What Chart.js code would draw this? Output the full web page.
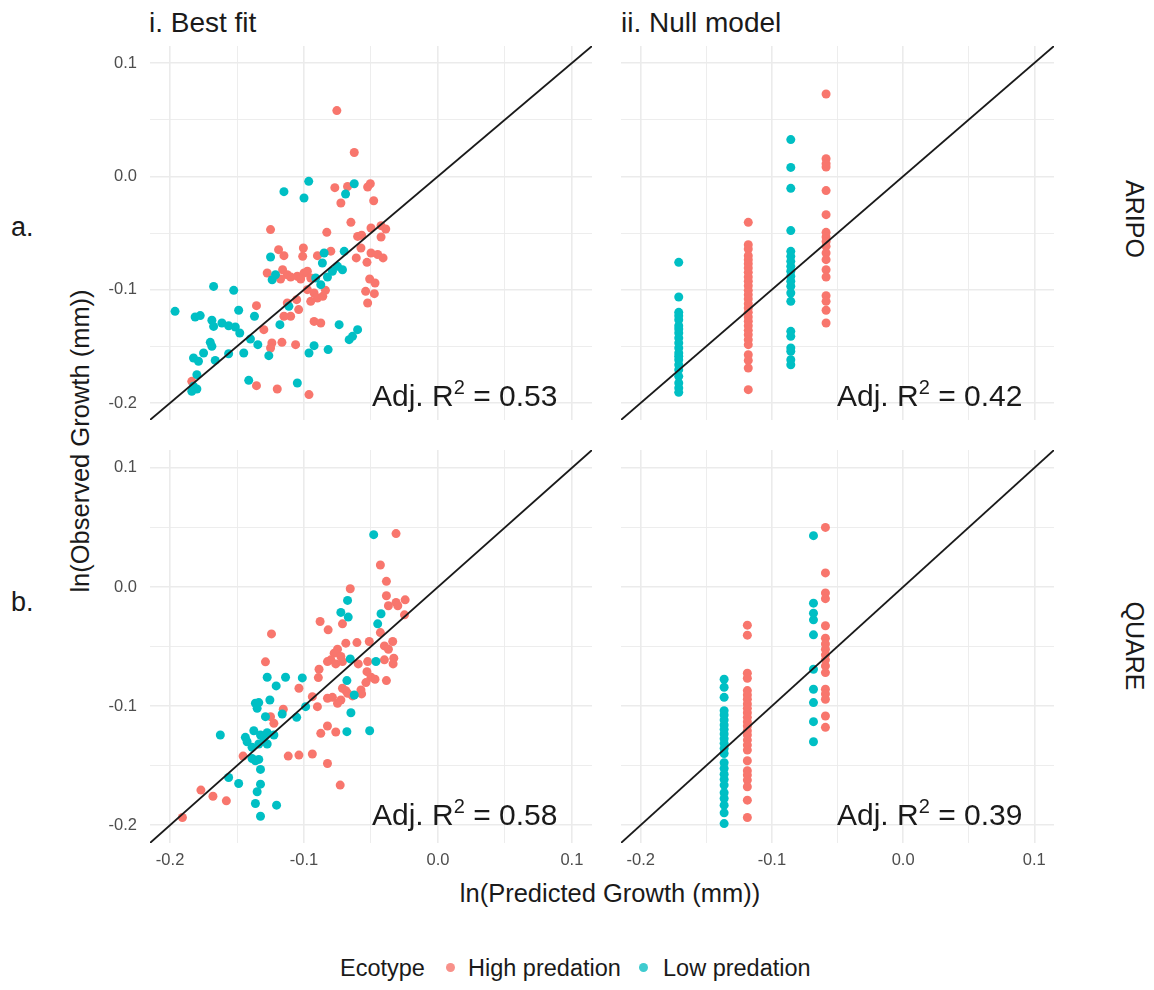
<!DOCTYPE html>
<html>
<head>
<meta charset="utf-8">
<script src="https://cdn.jsdelivr.net/npm/chart.js@4.4.0/dist/chart.umd.min.js"></script>
<style>
  body { margin: 0; background: #fff; }
  #page { position: relative; width: 1154px; height: 990px; background: #fff; overflow: hidden;
          font-family: 'Liberation Sans', Arial, Helvetica, sans-serif; color: #1a1a1a; }
  .t { position: absolute; white-space: nowrap; line-height: 1; }
  .panel { position: absolute; }
  .rot { transform: translate(-50%, -50%) rotate(90deg); }
  .rotl { transform: translate(-50%, -50%) rotate(-90deg); }
  .adj { font-size: 30px; }
  .adj sup { font-size: 20px; position: relative; top: -4px; vertical-align: top; }
  .dot { position: absolute; width: 9px; height: 9px; border-radius: 50%; }
</style>
</head>
<body>
<div id="page">
  <div class="t" style="left:149px; top:9px; font-size:28px;">i. Best fit</div>
  <div class="t" style="left:621px; top:9px; font-size:28px;">ii. Null model</div>
  <div class="t" style="left:11px; top:214px; font-size:27px;">a.</div>
  <div class="t" style="left:11px; top:589px; font-size:27px;">b.</div>
  <div class="t rot" style="left:1134px; top:219px; font-size:25px;">ARIPO</div>
  <div class="t rot" style="left:1134px; top:646px; font-size:25px;">QUARE</div>
  <div class="t rotl" style="left:81px; top:441px; font-size:25.5px;">ln(Observed Growth (mm))</div>
  <div class="t" style="left:610px; top:881px; font-size:25.5px; transform:translateX(-50%);">ln(Predicted Growth (mm))</div>

  <div class="panel" style="left:95px; top:46px;"><canvas id="c0" width="497" height="374"></canvas></div>
  <div class="panel" style="left:621px; top:46px;"><canvas id="c1" width="433" height="374"></canvas></div>
  <div class="panel" style="left:95px; top:450px;"><canvas id="c2" width="497" height="421"></canvas></div>
  <div class="panel" style="left:621px; top:450px;"><canvas id="c3" width="433" height="421"></canvas></div>

  <div class="t adj" style="left:372px; top:381px;">Adj. R<sup>2</sup> = 0.53</div>
  <div class="t adj" style="left:837px; top:381px;">Adj. R<sup>2</sup> = 0.42</div>
  <div class="t adj" style="left:372px; top:800px;">Adj. R<sup>2</sup> = 0.58</div>
  <div class="t adj" style="left:837px; top:800px;">Adj. R<sup>2</sup> = 0.39</div>

  <div class="t" style="left:340px; top:957px; font-size:23.5px;">Ecotype</div>
  <div class="dot" style="left:446px; top:963px; background:#F8918A;"></div>
  <div class="t" style="left:468px; top:957px; font-size:23.5px;">High predation</div>
  <div class="dot" style="left:639px; top:963px; background:#3FCBCF;"></div>
  <div class="t" style="left:663px; top:957px; font-size:23.5px;">Low predation</div>
</div>

<script>
// axis limits shared by every panel, grid positions and the labelled ones
const AXIS_MIN = -0.215;
const AXIS_MAX = 0.115;
const gridTicks = [-0.2, -0.15, -0.1, -0.05, 0, 0.05, 0.1];
const tickLabels = { '-0.2': '-0.2', '-0.1': '-0.1', '0': '0.0', '0.1': '0.1' };

const HIGH_COLOR = '#F8766D';
const LOW_COLOR = '#00BFC4';

// ARIPO, best fit  [predicted, observed]
const aripoBestHigh = [
  [-0.0755,0.058],[-0.0625,0.021],[-0.077,-0.010],[-0.0675,-0.009],[-0.0505,-0.0065],[-0.0525,-0.0094],
  [-0.0725,-0.0235],[-0.048,-0.0215],[-0.065,-0.0406],[-0.125,-0.047],[-0.083,-0.0494],[-0.05,-0.0456],
  [-0.0425,-0.0435],[-0.039,-0.0465],[-0.06,-0.053],[-0.057,-0.052],[-0.0425,-0.0535],[-0.0575,-0.0632],
  [-0.05,-0.0676],[-0.045,-0.069],[-0.041,-0.072],[-0.061,-0.072],[-0.053,-0.0759],[-0.119,-0.0647],
  [-0.115,-0.07],[-0.1005,-0.0632],[-0.101,-0.0706],[-0.09,-0.07],[-0.08,-0.066],[-0.1275,-0.0853],
  [-0.116,-0.0824],[-0.1125,-0.0868],[-0.1175,-0.0906],[-0.11,-0.0888],[-0.105,-0.0882],[-0.1,-0.0853],
  [-0.0975,-0.0838],[-0.1025,-0.0906],[-0.095,-0.0897],[-0.0975,-0.1],[-0.0925,-0.1029],[-0.09,-0.1074],
  [-0.086,-0.1059],[-0.084,-0.1006],[-0.095,-0.1103],[-0.051,-0.0906],[-0.047,-0.0941],[-0.054,-0.1015],
  [-0.0475,-0.1035],[-0.0525,-0.1118],[-0.1125,-0.1118],[-0.1055,-0.1088],[-0.104,-0.1176],[-0.11,-0.1235],
  [-0.1355,-0.1141],[-0.115,-0.1235],[-0.0925,-0.128],[-0.0875,-0.1294],[-0.13,-0.1353],[-0.124,-0.1471],
  [-0.1165,-0.1465],[-0.1063,-0.1485],[-0.125,-0.1515],[-0.1838,-0.1809],[-0.1355,-0.1847],[-0.12,-0.1876],
  [-0.0963,-0.1926]
];
const aripoBestLow = [
  [-0.0965,-0.0044],[-0.115,-0.0135],[-0.1,-0.0191],[-0.0625,-0.0065],[-0.069,-0.0156],[-0.125,-0.0712],
  [-0.085,-0.0676],[-0.0863,-0.0765],[-0.07,-0.0662],[-0.075,-0.0794],[-0.0713,-0.0824],[-0.0788,-0.0838],
  [-0.0825,-0.0888],[-0.0875,-0.0956],[-0.0913,-0.0897],[-0.1213,-0.0868],[-0.1238,-0.0912],[-0.1675,-0.0971],
  [-0.1525,-0.1006],[-0.1488,-0.1182],[-0.1963,-0.1191],[-0.1813,-0.1241],[-0.1775,-0.1229],[-0.1688,-0.127],
  [-0.1675,-0.1324],[-0.1613,-0.1294],[-0.1563,-0.1318],[-0.1513,-0.1329],[-0.148,-0.1382],[-0.137,-0.1235],
  [-0.118,-0.1309],[-0.1113,-0.1147],[-0.0738,-0.1309],[-0.06,-0.1353],[-0.0638,-0.1412],[-0.0663,-0.1441],
  [-0.17,-0.1465],[-0.1688,-0.15],[-0.175,-0.1559],[-0.14,-0.1435],[-0.1345,-0.1485],[-0.1825,-0.1603],
  [-0.1788,-0.1632],[-0.1663,-0.1624],[-0.1563,-0.1565],[-0.145,-0.1559],[-0.1263,-0.1582],[-0.0925,-0.1494],
  [-0.0963,-0.1559],[-0.082,-0.1529],[-0.18,-0.175],[-0.1825,-0.1853],[-0.18,-0.1876],[-0.1838,-0.1897],
  [-0.1413,-0.18],[-0.105,-0.1824]
];

// ARIPO, null model: one predicted value per column, observed values stacked on it
const aripoNullHigh = [
  [-0.118, [-0.0406,-0.0603,-0.0641,-0.07,-0.0735,-0.0771,-0.0809,-0.0847,-0.0888,-0.0926,-0.0965,-0.1006,
            -0.1044,-0.1082,-0.1124,-0.1162,-0.12,-0.1241,-0.1279,-0.1318,-0.1359,-0.1397,-0.1441,-0.1485,
            -0.1574,-0.1624,-0.1691,-0.1882]],
  [-0.0587, [0.0726,0.0156,0.0112,0.0082,-0.0126,-0.0338,-0.0494,-0.0535,-0.0574,-0.0618,-0.0676,-0.0735,
             -0.0824,-0.0888,-0.1053,-0.1103,-0.1182,-0.1294]]
];
const aripoNullLow = [
  [-0.171, [-0.0759,-0.1065,-0.12,-0.123,-0.1265,-0.1318,-0.1347,-0.1382,-0.1426,-0.147,-0.1515,-0.1559,
            -0.1588,-0.1618,-0.1662,-0.1706,-0.1765,-0.1824,-0.1868,-0.1906]],
  [-0.0856, [0.0324,0.0079,-0.0106,-0.0479,-0.0662,-0.0706,-0.075,-0.0794,-0.0838,-0.0882,-0.0926,-0.097,
             -0.1029,-0.1103,-0.1368,-0.1412,-0.1515,-0.1544,-0.1618,-0.1662]]
];

// QUARE, best fit
const quareBestHigh = [
  [-0.0313,0.0448],[-0.043,0.0184],[-0.0385,0.0047],[-0.0655,-0.0015],[-0.0385,-0.0074],[-0.037,-0.0158],
  [-0.0313,-0.013],[-0.03,-0.0158],[-0.0245,-0.0108],[-0.025,-0.0234],[-0.088,-0.029],[-0.0713,-0.031],
  [-0.082,-0.036],[-0.1243,-0.0394],[-0.043,-0.0383],[-0.0605,-0.0467],[-0.0688,-0.0472],[-0.0513,-0.0458],
  [-0.0338,-0.0458],[-0.04,-0.0495],[-0.037,-0.0523],[-0.075,-0.0523],[-0.0775,-0.0556],[-0.0725,-0.0584],
  [-0.08,-0.0612],[-0.0763,-0.0646],[-0.0825,-0.0627],[-0.0713,-0.0627],[-0.0595,-0.0646],[-0.0525,-0.0627],
  [-0.04,-0.0612],[-0.033,-0.0598],[-0.0335,-0.0646],[-0.053,-0.0711],[-0.05,-0.0758],[-0.047,-0.0775],
  [-0.0538,-0.0803],[-0.0385,-0.0786],[-0.0575,-0.0865],[-0.1288,-0.0629],[-0.0888,-0.0691],[-0.0893,-0.0761],
  [-0.1038,-0.0851],[-0.0938,-0.0921],[-0.09,-0.1005],[-0.0825,-0.0935],[-0.0788,-0.0927],[-0.0713,-0.0851],
  [-0.0688,-0.0871],[-0.0725,-0.0949],[-0.0675,-0.0893],[-0.075,-0.0977],[-0.0638,-0.0915],[-0.057,-0.0898],
  [-0.1155,-0.1027],[-0.125,-0.1089],[-0.1225,-0.1145],[-0.0825,-0.1168],[-0.0875,-0.1229],[-0.0763,-0.1218],
  [-0.1455,-0.142],[-0.1118,-0.142],[-0.1038,-0.1412],[-0.0938,-0.1403],[-0.0825,-0.1482],[-0.073,-0.1664],
  [-0.177,-0.1706],[-0.168,-0.1757],[-0.158,-0.1796],[-0.1908,-0.1936]
];
const quareBestLow = [
  [-0.048,0.0439],[-0.0425,-0.0225],[-0.045,-0.031],[-0.0675,-0.0113],[-0.0725,-0.0214],[-0.067,-0.0253],
  [-0.0655,-0.0604],[-0.0463,-0.0626],[-0.068,-0.0786],[-0.0625,-0.0907],[-0.065,-0.1056],[-0.051,-0.1207],
  [-0.068,-0.1215],[-0.1275,-0.0758],[-0.1138,-0.0758],[-0.1013,-0.0764],[-0.1208,-0.0831],[-0.1363,-0.0977],
  [-0.1338,-0.0971],[-0.1255,-0.0949],[-0.135,-0.1019],[-0.1288,-0.1089],[-0.1163,-0.1067],[-0.1055,-0.1095],
  [-0.0988,-0.1005],[-0.1625,-0.1243],[-0.1438,-0.1263],[-0.1425,-0.13],[-0.1375,-0.1207],[-0.1325,-0.1243],
  [-0.1275,-0.1224],[-0.1225,-0.1243],[-0.13,-0.1271],[-0.1338,-0.1319],[-0.1275,-0.1319],[-0.1388,-0.1347],
  [-0.1388,-0.144],[-0.1338,-0.1448],[-0.1363,-0.1459],[-0.1325,-0.1532],[-0.1563,-0.16],[-0.1488,-0.165],
  [-0.1325,-0.1656],[-0.135,-0.172],[-0.1363,-0.1818],[-0.1205,-0.1832],[-0.1325,-0.1925]
];

// QUARE, null model
const quareNullHigh = [
  [-0.1187, [-0.0321,-0.0405,-0.0725,-0.0767,-0.087,-0.0907,-0.0943,-0.0983,-0.1019,-0.1056,-0.1095,-0.1131,
             -0.1168,-0.1207,-0.1243,-0.1286,-0.1328,-0.137,-0.1459,-0.1543,-0.158,-0.1622,-0.1678,-0.179,-0.1936]],
  [-0.0592, [0.05,0.0118,-0.005,-0.0098,-0.0326,-0.043,-0.0478,-0.0523,-0.057,-0.0612,-0.0663,-0.0719,
             -0.0859,-0.0898,-0.0943,-0.1084,-0.1179]]
];
const quareNullLow = [
  [-0.1364, [-0.0775,-0.0842,-0.0927,-0.1039,-0.1075,-0.1117,-0.1159,-0.1196,-0.1235,-0.1274,-0.1313,-0.1356,
             -0.1398,-0.1476,-0.1524,-0.1572,-0.1616,-0.1664,-0.1728,-0.1776,-0.1832,-0.1897,-0.1987]],
  [-0.0683, [0.0431,-0.0136,-0.022,-0.0276,-0.0402,-0.0691,-0.0859,-0.0971,-0.1131,-0.13]]
];

const pairs = arr => arr.map(p => ({ x: p[0], y: p[1] }));
const columns = arr => arr.flatMap(c => c[1].map(v => ({ x: c[0], y: v })));

const isMajor = v => Math.abs(v * 10 - Math.round(v * 10)) < 1e-6;
const labelFor = v => {
  if (!isMajor(v)) return '';
  const key = String(Math.round(v * 10) / 10);
  return tickLabels[key] !== undefined ? tickLabels[key] : '';
};

const makeAxis = (show, isX) => ({
  type: 'linear',
  min: AXIS_MIN,
  max: AXIS_MAX,
  afterBuildTicks: s => { s.ticks = gridTicks.map(v => ({ value: v })); },
  afterFit: s => {
    if (isX) s.height = show ? 28 : 0;
    else s.width = show ? 55 : 0;
    // no extra room for half labels, the panel must fill its box
    s.paddingTop = 0; s.paddingBottom = 0; s.paddingLeft = 0; s.paddingRight = 0;
  },
  border: { display: false },
  grid: {
    drawTicks: false,
    color: '#EBEBEB',
    lineWidth: c => (c.tick && isMajor(c.tick.value)) ? 1.6 : 0.9
  },
  ticks: {
    display: show,
    autoSkip: false,
    maxRotation: 0,
    padding: isX ? 8 : 13,
    color: '#4D4D4D',
    font: { family: "'Liberation Sans', Arial, sans-serif", size: 16.5 },
    callback: v => labelFor(v)
  }
});

const makePanel = (id, high, low, showX, showY) => {
  new Chart(document.getElementById(id), {
    type: 'scatter',
    data: {
      datasets: [
        {
          type: 'line',
          data: [{ x: AXIS_MIN, y: AXIS_MIN }, { x: AXIS_MAX, y: AXIS_MAX }],
          borderColor: '#1a1a1a',
          borderWidth: 1.8,
          pointRadius: 0,
          fill: false,
          order: 0
        },
        { data: low, backgroundColor: LOW_COLOR, pointRadius: 4.5, borderWidth: 0, order: 1 },
        { data: high, backgroundColor: HIGH_COLOR, pointRadius: 4.5, borderWidth: 0, order: 2 }
      ]
    },
    options: {
      responsive: false,
      animation: false,
      devicePixelRatio: 1,
      layout: { padding: 0, autoPadding: false },
      events: [],
      plugins: { legend: { display: false }, tooltip: { enabled: false } },
      scales: { x: makeAxis(showX, true), y: makeAxis(showY, false) }
    }
  });
};

makePanel('c0', pairs(aripoBestHigh), pairs(aripoBestLow), false, true);
makePanel('c1', columns(aripoNullHigh), columns(aripoNullLow), false, false);
makePanel('c2', pairs(quareBestHigh), pairs(quareBestLow), true, true);
makePanel('c3', columns(quareNullHigh), columns(quareNullLow), true, false);
</script>
</body>
</html>
